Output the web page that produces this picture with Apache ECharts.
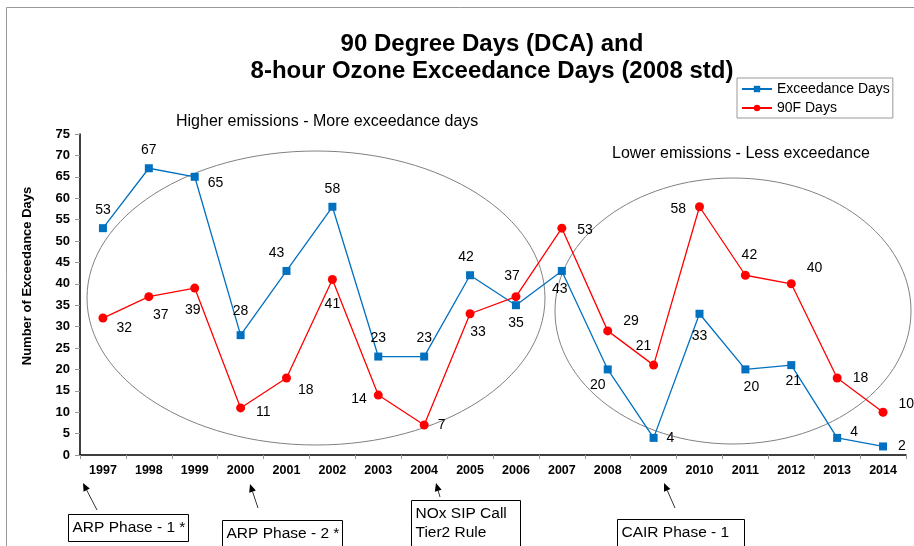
<!DOCTYPE html>
<html><head><meta charset="utf-8">
<script src="https://cdn.jsdelivr.net/npm/echarts@6/dist/echarts.min.js"></script>
<style>html,body{margin:0;padding:0;background:#fff}#c{width:914px;height:546px}</style>
</head><body><div id="c"></div>
<script>
var years = ['1997','1998','1999','2000','2001','2002','2003','2004','2005','2006','2007','2008','2009','2010','2011','2012','2013','2014'];
var exceedanceDays = [53,67,65,28,43,58,23,23,42,35,43,20,4,33,20,21,4,2];
var f90Days = [32,37,39,11,18,41,14,7,33,37,53,29,21,58,42,40,18,10];
var yTicks = [0,5,10,15,20,25,30,35,40,45,50,55,60,65,70,75];

// label placement (styling)
var exPos = [['top',[0,0]],['top',[0,0]],['right',[2,6]],['top',[0,-6]],['top',[-10,0]],['top',[0,0]],['top',[0,0]],['top',[0,0]],['top',[-4,0]],['bottom',[0,0]],['bottom',[-2,0]],['bottom',[-10,-2]],['right',[2,0]],['bottom',[0,4]],['bottom',[6,0]],['bottom',[2,-2]],['right',[2,-6]],['right',[4,0]]];
var fPos = [['right',[2,10]],['bottom',[12,0]],['bottom',[-2,4]],['right',[4,4]],['right',[0,12]],['bottom',[0,6]],['left',[0,4]],['right',[2,0]],['bottom',[8,0]],['top',[-4,-2]],['right',[4,2]],['right',[4,-10]],['top',[-10,0]],['left',[-2,2]],['top',[4,-2]],['right',[4,-16]],['right',[4,0]],['right',[4,-8]]];

function mk(vals, pos){
  return vals.map(function(v,i){return {value:v,label:{position:pos[i][0],offset:pos[i][1]}};});
}
var FF = '"Liberation Sans", Arial, sans-serif';
var chart = echarts.init(document.getElementById('c'));

function arrow(x1,y1,x2,y2){
  var a = Math.atan2(y2-y1,x2-x1), L=8, W=3.5;
  var bx = x2 - L*Math.cos(a), by = y2 - L*Math.sin(a);
  var px = -Math.sin(a)*W, py = Math.cos(a)*W;
  return [
    {type:'line',shape:{x1:x1,y1:y1,x2:bx,y2:by},style:{stroke:'#000',lineWidth:0.8}},
    {type:'polygon',shape:{points:[[x2,y2],[bx+px,by+py],[bx-px,by-py]]},style:{fill:'#000'}}
  ];
}
function box(x,y,w,h,txt){
  return [
    {type:'rect',shape:{x:x,y:y,width:w,height:h},style:{fill:'#fff',stroke:'#000',lineWidth:1}},
    {type:'text',left:x+4,top:y+4,style:{text:txt,font:'15.5px '+FF,fill:'#000',lineHeight:19}}
  ];
}
var g = [
  {type:'rect',shape:{x:6.5,y:7.5,width:930,height:560},style:{fill:null,stroke:'#999',lineWidth:1},silent:true},
  {type:'ellipse',shape:{cx:316,cy:298,rx:229,ry:147},style:{fill:null,stroke:'#808080',lineWidth:1},z:1},
  {type:'ellipse',shape:{cx:733,cy:311,rx:178,ry:133},style:{fill:null,stroke:'#808080',lineWidth:1},z:1},
  {type:'text',left:176,top:114,style:{text:'Higher emissions - More exceedance days',font:'16px '+FF,fill:'#000'}},
  {type:'text',left:612,top:146,style:{text:'Lower emissions - Less exceedance',font:'16px '+FF,fill:'#000'}},
  {type:'text',x:27,y:276,rotation:Math.PI/2,style:{text:'Number of Exceedance Days',font:'bold 13px '+FF,fill:'#000',align:'center',verticalAlign:'middle'}}
];
g = g.concat(arrow(97,510,83,483), arrow(258,508,250,484), arrow(440,497,436,483), arrow(675,508,664,483));
g = g.concat(box(68.5,514.5,120,27,'ARP Phase - 1 *'), box(222.5,520.5,120,30,'ARP Phase - 2 *'), box(411.5,500.5,109,50,'NOx SIP Call\nTier2 Rule'), box(617.5,519.5,127,30,'CAIR Phase - 1'));

chart.setOption({
  animation:false,
  textStyle:{fontFamily:FF},
  title:{text:'90 Degree Days (DCA) and\n8-hour Ozone Exceedance Days (2008 std)',left:487,textAlign:'center',top:26,
    textStyle:{fontSize:24,fontWeight:'bold',color:'#000',lineHeight:27,fontFamily:FF}},
  legend:{orient:'vertical',left:737,top:78,width:155,itemWidth:30,itemHeight:8,itemGap:5,
    padding:[4,3,3,4],borderColor:'#999',borderWidth:1,
    textStyle:{fontSize:14,color:'#000',fontFamily:FF},
    data:['Exceedance Days','90F Days']},
  grid:{left:80,right:8,top:134,bottom:91},
  xAxis:{type:'category',data:years,boundaryGap:true,
    axisLine:{lineStyle:{color:'#000',width:1.5}},
    axisTick:{show:true,length:4,lineStyle:{color:'#999'}},
    axisLabel:{fontWeight:'bold',fontSize:12.5,color:'#000',margin:9,fontFamily:FF}},
  yAxis:{type:'value',min:0,max:75,interval:5,
    axisLine:{show:true,lineStyle:{color:'#000',width:1.5}},
    axisTick:{show:true,length:5,lineStyle:{color:'#999'}},
    splitLine:{show:false},
    axisLabel:{fontWeight:'bold',fontSize:13,color:'#000',margin:10,fontFamily:FF,
      formatter:function(v){return yTicks.indexOf(v)>=0?String(v):'';}}},
  series:[
    {name:'Exceedance Days',type:'line',data:mk(exceedanceDays,exPos),symbol:'rect',symbolSize:8,
      itemStyle:{color:'#0070C0'},lineStyle:{color:'#0070C0',width:1.3},z:3,
      label:{show:true,fontSize:14,color:'#000',distance:7,fontFamily:FF}},
    {name:'90F Days',type:'line',data:mk(f90Days,fPos),symbol:'circle',symbolSize:9,
      itemStyle:{color:'#FF0000'},lineStyle:{color:'#FF0000',width:1.3},z:3,
      label:{show:true,fontSize:14,color:'#000',distance:7,fontFamily:FF}}
  ],
  graphic:g
});
</script></body></html>
